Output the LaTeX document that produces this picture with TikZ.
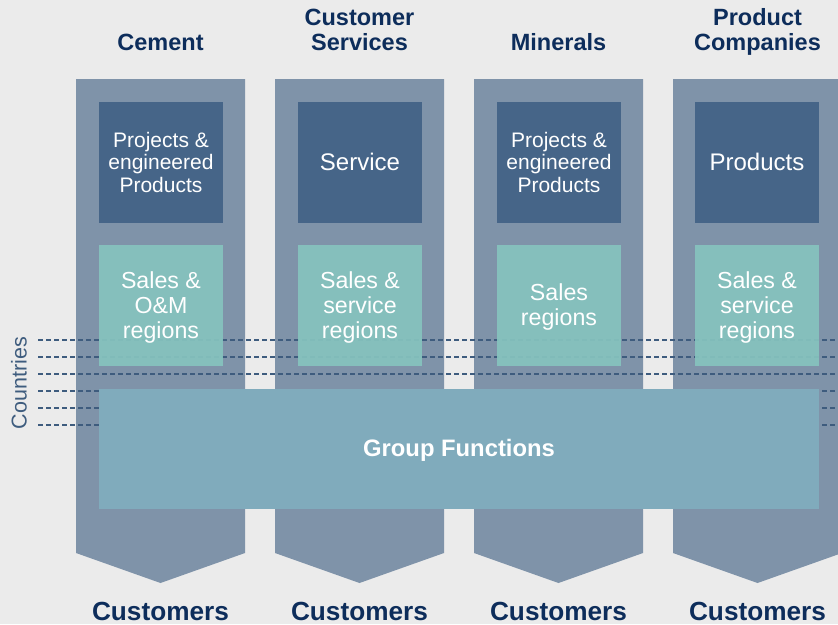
\documentclass[tikz,border=0pt]{standalone}
\usepackage{fontspec}
\setmainfont{Liberation Sans}
\definecolor{bgc}{HTML}{EBEBEB}
\definecolor{colc}{HTML}{7F93A9}
\definecolor{darkc}{HTML}{466588}
\definecolor{salesc}{HTML}{86C3BE}
\definecolor{groupc}{HTML}{80ABBC}
\definecolor{titlec}{HTML}{0D2D5B}
\definecolor{dashc}{HTML}{3E5C7E}
\tikzset{
  colshape/.style={fill=colc},
  dashline/.style={draw=dashc, line width=1.3pt, dash pattern=on 5pt off 3pt},
  topbox/.style={fill=darkc, minimum width=124pt, minimum height=121pt, inner sep=0pt, text=white, align=center},
  salesbox/.style={fill=salesc, fill opacity=0.93, text opacity=1, minimum width=124pt, minimum height=121pt, inner sep=0pt, text=white, align=center},
  salestext/.style={text=white, align=center, inner sep=0pt},
  groupbox/.style={fill=groupc, minimum width=720pt, minimum height=120pt, inner sep=0pt, text=white, font=\bfseries\fontsize{23.8}{26}\selectfont},
  titletext/.style={text=titlec, align=center, inner sep=0pt, anchor=base, font=\bfseries\fontsize{23.5}{25}\selectfont},
  custtext/.style={text=titlec, inner sep=0pt, anchor=base, font=\bfseries\fontsize{26.2}{28}\selectfont},
  threeline/.style={font=\fontsize{21}{22.5}\selectfont},
  bigline/.style={font=\fontsize{23.2}{25}\selectfont},
  oneline/.style={font=\fontsize{24}{26}\selectfont}
}
\begin{document}
\begin{tikzpicture}[x=1pt,y=-1pt]
\useasboundingbox (0,0) rectangle (838,624);
\clip (0,0) rectangle (838,624);
\fill[bgc] (0,0) rectangle (838,624);
% columns
\foreach \i in {0,1,2,3} {
  \pgfmathsetmacro\xl{76+199*\i}
  \fill[colshape] (\xl,79) -- ++(169,0) -- ++(0,474) -- ++(-84.5,30) -- ++(-84.5,-30) -- cycle;
}
% dashed country lines
\foreach \y in {340,357,374,391,408,425} {
  \draw[dashline] (38,\y) -- (838,\y);
}
% titles
\node[titletext] (t1) at (160.5,50) {Cement};
\node[titletext] (t2) at (359.5,50) {Customer\\Services};
\node[titletext] (t3) at (558.5,50) {Minerals};
\node[titletext] (t4) at (757.5,50) {Product\\Companies};
% top boxes
\node[topbox, threeline] (p1) at (161,162) {Projects \&\\engineered\\Products};
\node[topbox, oneline] (p2) at (360,162) {Service};
\node[topbox, threeline] (p3) at (559,162) {Projects \&\\engineered\\Products};
\node[topbox, oneline] (p4) at (757,162) {Products};
% sales boxes
\node[salesbox] (s1) at (161,305.5) {};
\node[salesbox] (s2) at (360,305.5) {};
\node[salesbox] (s3) at (559,305.5) {};
\node[salesbox] (s4) at (757,305.5) {};
\node[salestext, bigline] (s1t) at (161,307.5) {Sales \&\\O\&M\\regions};
\node[salestext, bigline] (s2t) at (360,307.5) {Sales \&\\service\\regions};
\node[salestext, bigline] (s3t) at (559,307) {Sales\\regions};
\node[salestext, bigline] (s4t) at (757,307.5) {Sales \&\\service\\regions};
% group functions
\node[groupbox] (g) at (459,449) {};
\node[text=white, inner sep=0pt, font=\bfseries\fontsize{23.8}{26}\selectfont] (gt) at (459,450.5) {Group Functions};
% countries
\node[text=dashc, rotate=90, inner sep=0pt, font=\fontsize{21.5}{24}\selectfont] (c) at (19,383) {Countries};
% customers
\node[custtext] (c1) at (160.5,620) {Customers};
\node[custtext] (c2) at (359.5,620) {Customers};
\node[custtext] (c3) at (558.5,620) {Customers};
\node[custtext] (c4) at (757.5,620) {Customers};
\end{tikzpicture}
\end{document}
